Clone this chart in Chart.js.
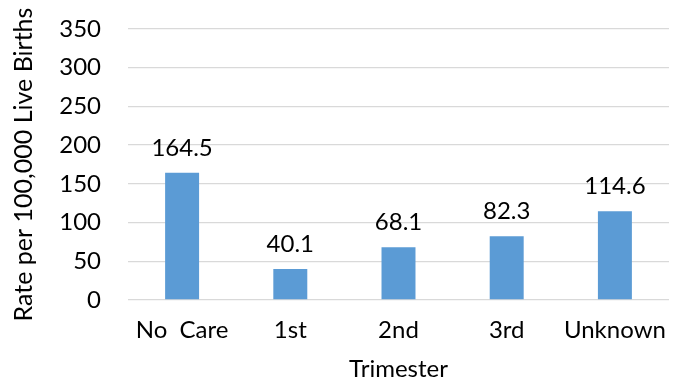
<!DOCTYPE html>
<html>
<head>
<meta charset="utf-8">
<script src="https://cdn.jsdelivr.net/npm/chart.js@4/dist/chart.umd.min.js"></script>
<style>
  html, body { margin: 0; padding: 0; background: #ffffff; }
  #wrap { width: 675px; height: 381px; position: relative; }
</style>
</head>
<body>
<div id="wrap"><canvas id="c" width="675" height="381"></canvas></div>
<script>
// Rates by trimester prenatal care began
const trimesters = ['No  Care', '1st', '2nd', '3rd', 'Unknown'];
const rates = [164.5, 40.1, 68.1, 82.3, 114.6];
const yTicks = [0, 50, 100, 150, 200, 250, 300, 350];

const FONT = 'Lato, "Open Sans", sans-serif';
const TEXT = '#000000';
const SIZE = 24;

// Writes each bar's value above it
const valueLabels = {
  id: 'valueLabels',
  afterDatasetsDraw(chart) {
    const ctx = chart.ctx;
    const meta = chart.getDatasetMeta(0);
    ctx.save();
    ctx.font = SIZE + 'px ' + FONT;
    ctx.fillStyle = TEXT;
    ctx.textAlign = 'center';
    ctx.textBaseline = 'alphabetic';
    meta.data.forEach((bar, i) => {
      ctx.fillText(rates[i].toFixed(1), bar.x, bar.y - 17);
    });
    ctx.restore();
  }
};

new Chart(document.getElementById('c'), {
  type: 'bar',
  data: {
    labels: trimesters,
    datasets: [{
      data: rates,
      backgroundColor: '#5b9bd5',
      borderWidth: 0,
      barPercentage: 0.314,
      categoryPercentage: 1.0
    }]
  },
  options: {
    responsive: false,
    animation: false,
    devicePixelRatio: 1,
    layout: { padding: { top: 29, right: 6, bottom: 0, left: 4 } },
    plugins: { legend: { display: false }, tooltip: { enabled: false } },
    scales: {
      x: {
        afterFit(scale) { scale.paddingLeft = 0; scale.paddingRight = 0; scale.height = 81; },
        grid: { display: false, drawTicks: false },
        border: { display: false },
        ticks: { color: TEXT, font: { family: FONT, size: SIZE, lineHeight: 1 }, padding: 18, maxRotation: 0 },
        title: {
          display: true, text: 'Trimester', color: TEXT,
          font: { family: FONT, size: SIZE, lineHeight: 1 }, padding: { top: 15, bottom: 0 }
        }
      },
      y: {
        min: 0, max: 350,
        afterBuildTicks(scale) { scale.ticks = yTicks.map(v => ({ value: v })); },
        afterFit(scale) { scale.width = 124; scale.paddingTop = 0; scale.paddingBottom = 0; },
        grid: { color: '#d9d9d9', lineWidth: 1.3, drawTicks: false },
        border: { display: false },
        ticks: { color: TEXT, font: { family: FONT, size: SIZE }, padding: 27 },
        title: {
          display: true, text: 'Rate per 100,000 Live Births', color: TEXT,
          font: { family: FONT, size: 25 }, padding: { top: 5, bottom: 0 }
        }
      }
    }
  },
  plugins: [valueLabels]
});
</script>
</body>
</html>
